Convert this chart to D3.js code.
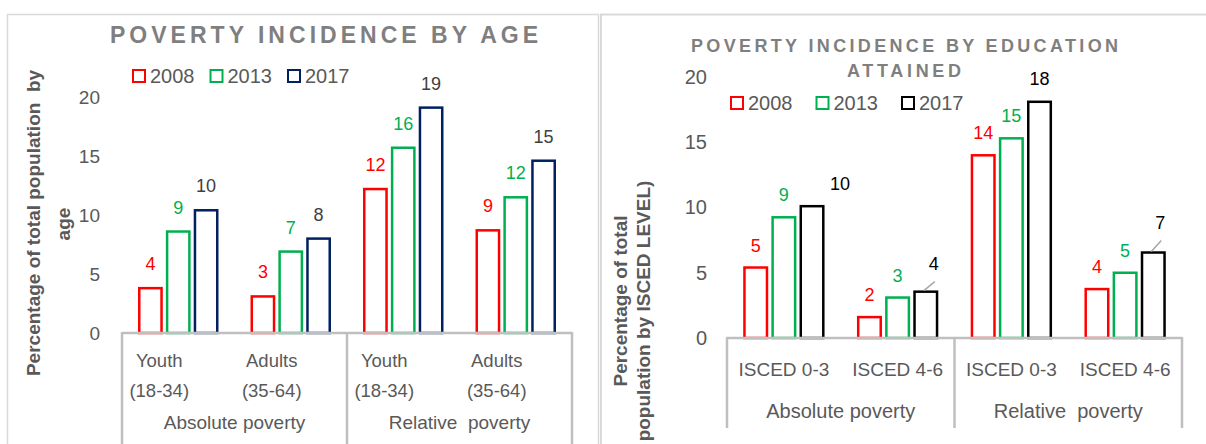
<!DOCTYPE html>
<html>
<head>
<meta charset="utf-8">
<script src="https://cdn.jsdelivr.net/npm/d3@7"></script>
<style>
  body { margin: 0; background: #fff; }
  svg { display: block; font-family: "Liberation Sans", Arial, sans-serif; }
  svg text { white-space: pre; }
</style>
</head>
<body>
<svg id="chart"></svg>
<script>
// ---- data ----
const years = ["2008", "2013", "2017"];
const yTicks = [0, 5, 10, 15, 20];

const ageCategories = [["Youth", "(18-34)"], ["Adults", "(35-64)"], ["Youth", "(18-34)"], ["Adults", "(35-64)"]];
const ageGroups = ["Absolute poverty", "Relative  poverty"];
const age2008 = [3.8, 3.1, 12.2, 8.7];
const age2013 = [8.6, 6.9, 15.7, 11.5];
const age2017 = [10.4, 8.0, 19.1, 14.6];

const eduCategories = [["ISCED 0-3"], ["ISCED 4-6"], ["ISCED 0-3"], ["ISCED 4-6"]];
const eduGroups = ["Absolute poverty", "Relative  poverty"];
const edu2008 = [5.4, 1.6, 14.0, 3.75];
const edu2013 = [9.25, 3.1, 15.3, 5.0];
const edu2017 = [10.1, 3.55, 18.1, 6.55];

const width = 1206;
const height = 444;

const svg = d3.select('#chart')
  .attr('width', width)
  .attr('height', height);

// outer chart frames
svg.append('rect')
  .attr('x', 7.5).attr('y', 14.5).attr('width', 591).attr('height', 460)
  .attr('fill', 'none').attr('stroke', '#d9d9d9').attr('stroke-width', 1.5);
svg.append('rect')
  .attr('x', 601).attr('y', 14.5).attr('width', 640).attr('height', 460)
  .attr('fill', 'none').attr('stroke', '#d9d9d9').attr('stroke-width', 2);

function drawChart(opt) {
  const g = svg.append('g');
  const series = [opt.v0, opt.v1, opt.v2];

  // scales
  const x = d3.scaleBand()
    .domain(d3.range(opt.categories.length))
    .range(opt.xRange)
    .paddingInner(0).paddingOuter(0);

  const xInner = d3.scaleBand()
    .domain(d3.range(years.length))
    .range([0, x.bandwidth()])
    .paddingInner(0.2)
    .paddingOuter(0.62);

  const y = d3.scaleLinear()
    .domain([0, 20])
    .range(opt.yRange);

  // title
  opt.title.forEach(t => {
    g.append('text')
      .attr('x', t.x).attr('y', t.y)
      .attr('textLength', t.len)
      .attr('lengthAdjust', 'spacing')
      .style('font-size', t.size + 'px')
      .style('font-weight', 'bold')
      .style('fill', '#7f7f7f')
      .text(t.text);
  });

  // y axis (labels only)
  const yAxis = g.append('g')
    .attr('transform', `translate(${opt.tickX + 3},0)`)
    .call(d3.axisLeft(y).tickValues(yTicks).tickSize(0).tickPadding(3));
  yAxis.select('.domain').remove();
  yAxis.selectAll('text')
    .style('font-family', '"Liberation Sans", Arial, sans-serif')
    .style('font-size', opt.tickSize + 'px')
    .style('fill', '#595959');

  // y axis title
  opt.yTitle.forEach(t => {
    g.append('text')
      .attr('transform', `translate(${t.x},${t.y})rotate(-90)`)
      .attr('text-anchor', 'middle')
      .attr('dominant-baseline', 'central')
      .style('font-size', t.size + 'px')
      .style('font-weight', 'bold')
      .style('fill', '#595959')
      .text(t.text);
  });

  // legend
  years.forEach((yr, i) => {
    const lx = opt.legend.x + i * opt.legend.step;
    g.append('rect')
      .attr('x', lx).attr('y', opt.legend.y - 6)
      .attr('width', 12).attr('height', 12)
      .attr('fill', '#fff')
      .attr('stroke', opt.colors[i])
      .attr('stroke-width', 2);
    g.append('text')
      .attr('x', lx + 17).attr('y', opt.legend.y + 7)
      .style('font-size', opt.legend.size + 'px')
      .style('fill', '#595959')
      .text(yr);
  });

  // bars
  series.forEach((vals, s) => {
    g.selectAll(null)
      .data(vals)
      .enter()
      .append('rect')
      .attr('x', (d, i) => x(i) + xInner(s))
      .attr('y', d => y(d))
      .attr('width', xInner.bandwidth())
      .attr('height', d => y(0) - y(d))
      .attr('fill', '#fff')
      .attr('stroke', opt.colors[s])
      .attr('stroke-width', 2.5);
  });

  // data labels
  series.forEach((vals, s) => {
    const nudge = opt.nudges[s] || vals.map(() => [0, 0]);
    vals.forEach((d, i) => {
      const cx = x(i) + xInner(s) + xInner.bandwidth() / 2;
      const lx = cx + nudge[i][0];
      const ly = y(d) - opt.labelGap + nudge[i][1];
      if (opt.leaders[s] && opt.leaders[s][i]) {
        g.append('line')
          .attr('x1', cx - 2).attr('y1', y(d) - 1)
          .attr('x2', lx + 1).attr('y2', ly + 12)
          .attr('stroke', '#a6a6a6')
          .attr('stroke-width', 1.5);
      }
      g.append('text')
        .attr('x', lx).attr('y', ly)
        .attr('text-anchor', 'middle')
        .style('font-size', opt.labelSize + 'px')
        .style('fill', opt.labelColors[s])
        .text(Math.round(d));
    });
  });

  // category axis: baseline + group separators
  const [x0, x1] = opt.xRange;
  const zero = y(0);
  g.append('line')
    .attr('x1', x0).attr('x2', x1)
    .attr('y1', zero).attr('y2', zero)
    .attr('stroke', '#bfbfbf').attr('stroke-width', 2.5);
  [0, 2, 4].forEach(k => {
    const gx = k === 4 ? x1 : x(k);
    g.append('line')
      .attr('x1', gx).attr('x2', gx)
      .attr('y1', zero - 1).attr('y2', opt.axisBottom)
      .attr('stroke', '#bfbfbf').attr('stroke-width', 2.5);
  });

  // category labels
  opt.categories.forEach((lines, i) => {
    lines.forEach((line, j) => {
      g.append('text')
        .attr('x', x(i) + x.bandwidth() / 2 + opt.catDx)
        .attr('y', opt.catY[j])
        .attr('text-anchor', 'middle')
        .style('font-size', opt.catSize + 'px')
        .style('fill', '#595959')
        .text(line);
    });
  });

  // group labels
  opt.groups.forEach((grp, k) => {
    g.append('text')
      .attr('x', (x(k * 2) + (k === 1 ? x1 : x(2))) / 2)
      .attr('y', opt.groupY)
      .attr('text-anchor', 'middle')
      .style('font-size', opt.groupSize + 'px')
      .style('fill', '#595959')
      .text(grp);
  });
}

// ---- left chart: by age ----
drawChart({
  categories: ageCategories,
  groups: ageGroups,
  v0: age2008, v1: age2013, v2: age2017,
  colors: ['#ff0000', '#00b050', '#002060'],
  labelColors: ['#ff0000', '#00b050', '#404040'],
  xRange: [122, 572],
  yRange: [333, 97],
  tickX: 100,
  tickSize: 19,
  labelSize: 18,
  labelGap: 18,
  nudges: [],
  leaders: [],
  title: [{ text: 'POVERTY INCIDENCE BY AGE', x: 110, y: 43, len: 428, size: 23 }],
  legend: { x: 133, y: 76, step: 77.5, size: 20 },
  yTitle: [
    { text: 'Percentage of total population  by', x: 33, y: 223, size: 19 },
    { text: 'age', x: 63, y: 224, size: 19 }
  ],
  catDx: -19,
  catY: [367, 397],
  catSize: 18.5,
  groupY: 429,
  groupSize: 19,
  axisBottom: 444
});

// ---- right chart: by education ----
drawChart({
  categories: eduCategories,
  groups: eduGroups,
  v0: edu2008, v1: edu2013, v2: edu2017,
  colors: ['#ff0000', '#00b050', '#000000'],
  labelColors: ['#ff0000', '#00b050', '#000000'],
  xRange: [727, 1182],
  yRange: [338, 77],
  tickX: 707,
  tickSize: 20,
  labelSize: 18,
  labelGap: 16,
  nudges: [null, null, [[28, 0], [8, -6], [0, -1], [7, -8]]],
  leaders: [null, null, [false, true, false, true]],
  title: [
    { text: 'POVERTY INCIDENCE BY EDUCATION', x: 691, y: 52, len: 427, size: 18 },
    { text: 'ATTAINED', x: 847, y: 77, len: 114, size: 18 }
  ],
  legend: { x: 731, y: 103, step: 85.5, size: 20 },
  yTitle: [
    { text: 'Percentage of total', x: 620, y: 301, size: 19 },
    { text: 'population by ISCED LEVEL)', x: 643, y: 311, size: 19 }
  ],
  catDx: 0,
  catY: [376],
  catSize: 19,
  groupY: 418,
  groupSize: 20,
  axisBottom: 428
});
</script>
</body>
</html>
